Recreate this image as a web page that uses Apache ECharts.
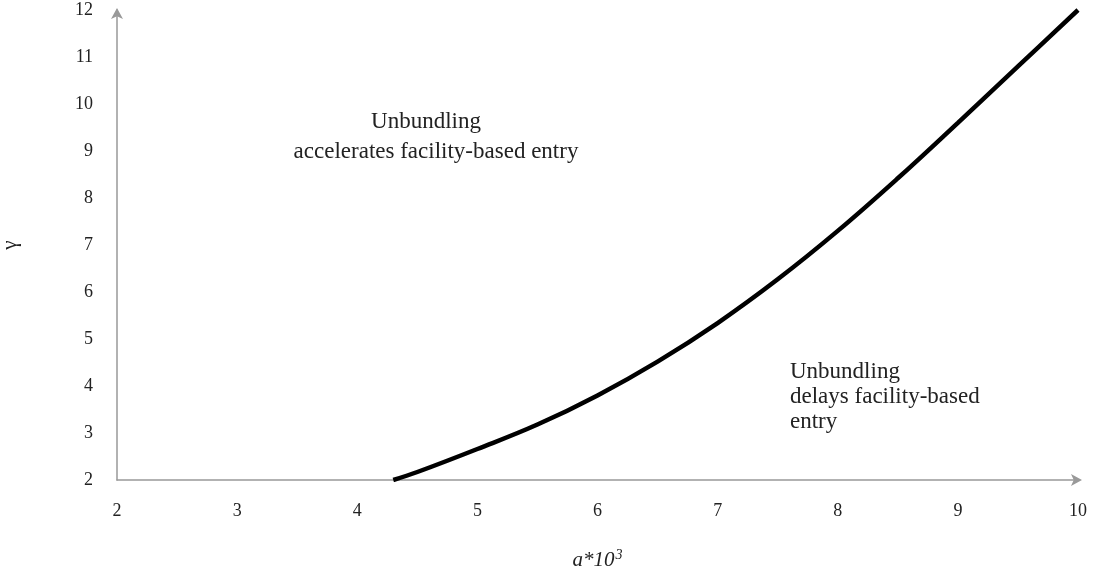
<!DOCTYPE html>
<html>
<head>
<meta charset="utf-8">
<script src="https://cdn.jsdelivr.net/npm/echarts@6/dist/echarts.min.js"></script>
<style>html,body{margin:0;padding:0;background:#fff}#c{width:1096px;height:573px}</style>
</head>
<body>
<div id="c"></div>
<script>
var aValues = [4.3, 4.5, 5, 5.5, 6, 6.5, 7, 7.5, 8, 8.5, 9, 9.5, 10];
var gammaValues = [2.0, 2.17, 2.66, 3.18, 3.8, 4.52, 5.34, 6.27, 7.3, 8.42, 9.6, 10.8, 12.0];
var xTicks = [2, 3, 4, 5, 6, 7, 8, 9, 10];
var yTicks = [2, 3, 4, 5, 6, 7, 8, 9, 10, 11, 12];
var xName = 'a*10';
var xNameSup = '3';
var yName = 'γ';
var upperText = ['Unbundling', 'accelerates facility-based entry'];
var lowerText = ['Unbundling', 'delays facility-based', 'entry'];

var serif = '"Liberation Serif", "DejaVu Serif", serif';
var chart = echarts.init(document.getElementById('c'));
var lineData = aValues.map(function (a, i) { return [a, gammaValues[i]]; });
chart.setOption({
  animation: false,
  backgroundColor: '#ffffff',
  grid: { left: 117, right: 18, top: 10, bottom: 93, containLabel: false, outerBoundsMode: 'none' },
  xAxis: {
    type: 'value', min: xTicks[0], max: xTicks[xTicks.length - 1], interval: 1,
    name: '{i|' + xName + '}{s|' + xNameSup + '}',
    nameLocation: 'middle', nameGap: 68,
    nameTextStyle: {
      rich: {
        i: { fontFamily: serif, fontStyle: 'italic', fontSize: 21, color: '#222' },
        s: { fontFamily: serif, fontStyle: 'italic', fontSize: 14, color: '#222', verticalAlign: 'top', padding: [0, 0, 10, 1] }
      }
    },
    axisLine: { show: true, lineStyle: { color: '#999', width: 1.5 }, symbol: ['none', 'arrow'], symbolSize: [9, 11], symbolOffset: [0, 4] },
    axisTick: { show: false },
    splitLine: { show: false },
    axisLabel: { fontFamily: serif, fontSize: 18, color: '#222', margin: 22 }
  },
  yAxis: {
    type: 'value', min: yTicks[0], max: yTicks[yTicks.length - 1], interval: 1,
    name: yName, nameLocation: 'middle', nameGap: 96, nameRotate: 90,
    nameTextStyle: { fontFamily: serif, fontSize: 21, color: '#222' },
    axisLine: { show: true, lineStyle: { color: '#999', width: 1.5 }, symbol: ['none', 'arrow'], symbolSize: [9, 11], symbolOffset: [0, 2] },
    axisTick: { show: false },
    splitLine: { show: false },
    axisLabel: { fontFamily: serif, fontSize: 18, color: '#222', margin: 24 }
  },
  series: [{
    type: 'line', data: lineData, smooth: 0.4, showSymbol: false,
    lineStyle: { color: '#000', width: 4.5 }
  }],
  graphic: [
    { type: 'text', x: 426, y: 122, style: { text: upperText[0], font: '23px ' + serif, fill: '#222', align: 'center', verticalAlign: 'middle' } },
    { type: 'text', x: 436, y: 152, style: { text: upperText[1], font: '23px ' + serif, fill: '#222', align: 'center', verticalAlign: 'middle' } },
    { type: 'text', x: 790, y: 359, style: { text: lowerText.join('\n'), font: '23px ' + serif, fill: '#222', align: 'left', verticalAlign: 'top', lineHeight: 25 } }
  ]
});
</script>
</body>
</html>
